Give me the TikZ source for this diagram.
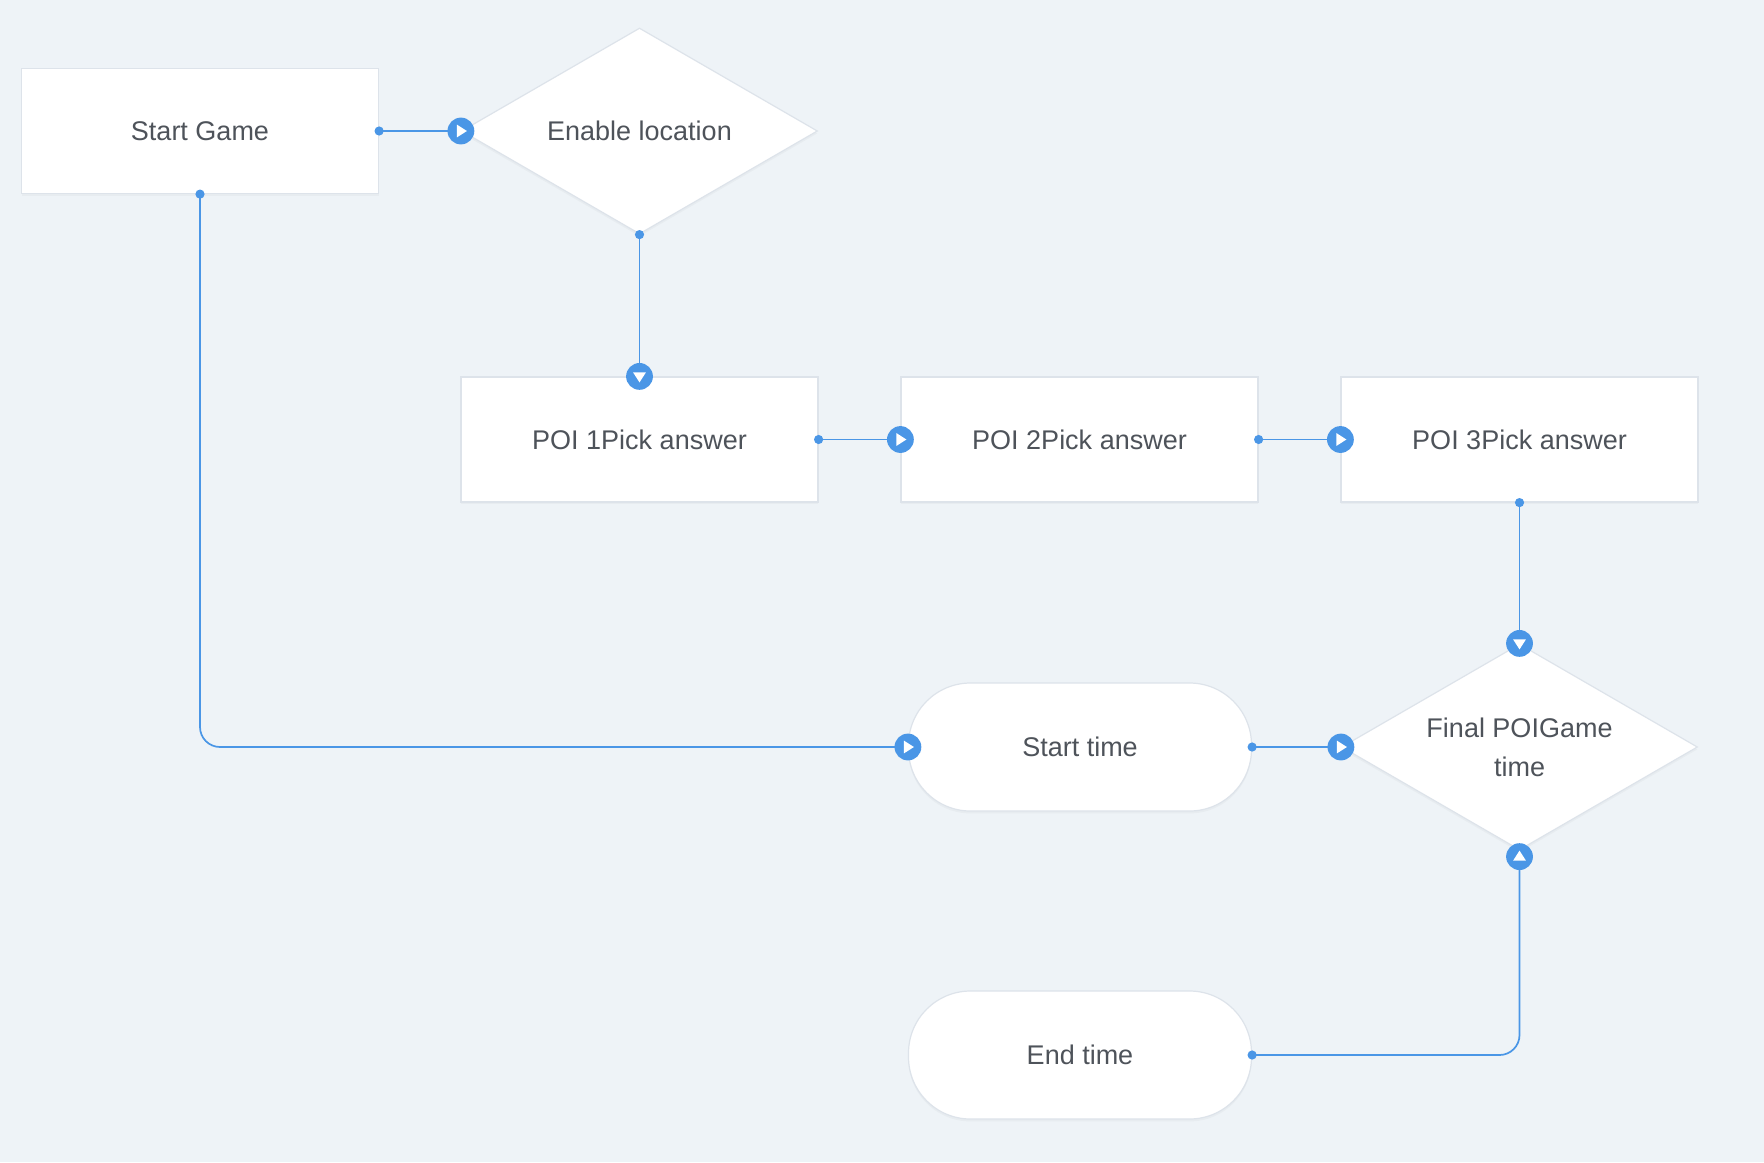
\documentclass[tikz,border=0pt]{standalone}
\usepackage{fontspec}
\setmainfont{Liberation Sans}
\usetikzlibrary{shapes.geometric,shadows}
\definecolor{bg}{HTML}{EEF3F7}
\definecolor{edge}{HTML}{DDE3EA}
\definecolor{lnk}{HTML}{4A96E6}
\definecolor{txt}{HTML}{4E535A}
\tikzset{
  base/.style={draw=edge, line width=0.6pt, fill=white, text=txt, font=\fontsize{13.5}{19.5}\selectfont,
    inner sep=0pt, drop shadow={opacity=0.06, shadow xshift=0pt, shadow yshift=-1.2pt}},
  boxnode/.style={base, rectangle, minimum width=178.5pt, minimum height=62.5pt},
  decnode/.style={base, diamond, aspect=1.72, minimum width=178pt, minimum height=103pt, align=center},
  termnode/.style={base, rectangle, rounded corners=31pt, minimum width=171.5pt, minimum height=64pt},
  link/.style={draw=lnk, line width=0.85pt},
  dotend/.style={fill=lnk},
  mk/.pic={\fill[lnk] (0,0) circle[radius=6.7pt];
           \fill[white] (3pt,0) -- (-2pt,3.2pt) -- (-2pt,-3.2pt) -- cycle;}
}
\begin{document}
\begin{tikzpicture}[x=0.5pt,y=-0.5pt]
\useasboundingbox (0,0) rectangle (1764,1162);
\fill[bg] (0,0) rectangle (1764,1162);

\node[boxnode] (sg) at (200,131) {Start Game};
\node[decnode] (el) at (639.5,131) {Enable location};
\node[boxnode] (p1) at (639.5,439.5) {POI 1Pick answer};
\node[boxnode] (p2) at (1079.5,439.5) {POI 2Pick answer};
\node[boxnode] (p3) at (1519.5,439.5) {POI 3Pick answer};
\node[termnode] (st) at (1080,747) {Start time};
\node[decnode] (fd) at (1519.5,747) {Final POIGame\\time};
\node[termnode] (et) at (1080,1055) {End time};

\draw[link] (sg.east) -- (el.west);
\draw[link] (el.south) -- (p1.north);
\draw[link] (p1.east) -- (p2.west);
\draw[link] (p2.east) -- (p3.west);
\draw[link] (p3.south) -- (fd.north);
\draw[link, rounded corners=10pt] (sg.south) |- (st.west);
\draw[link] (st.east) -- (fd.west);
\draw[link, rounded corners=10pt] (et.east) -| (fd.south);

\foreach \p in {sg.east, el.south, p1.east, p2.east, p3.south, sg.south, st.east, et.east}
  \fill[dotend] (\p) circle[radius=2.3pt];

\path (el.west) pic{mk};
\path (p1.north) pic[rotate=-90]{mk};
\path (p2.west) pic{mk};
\path (p3.west) pic{mk};
\path (fd.north) pic[rotate=-90]{mk};
\path (st.west) pic{mk};
\path (fd.west) pic{mk};
\path ([yshift=-3pt]fd.south) pic[rotate=90]{mk};
\end{tikzpicture}
\end{document}
